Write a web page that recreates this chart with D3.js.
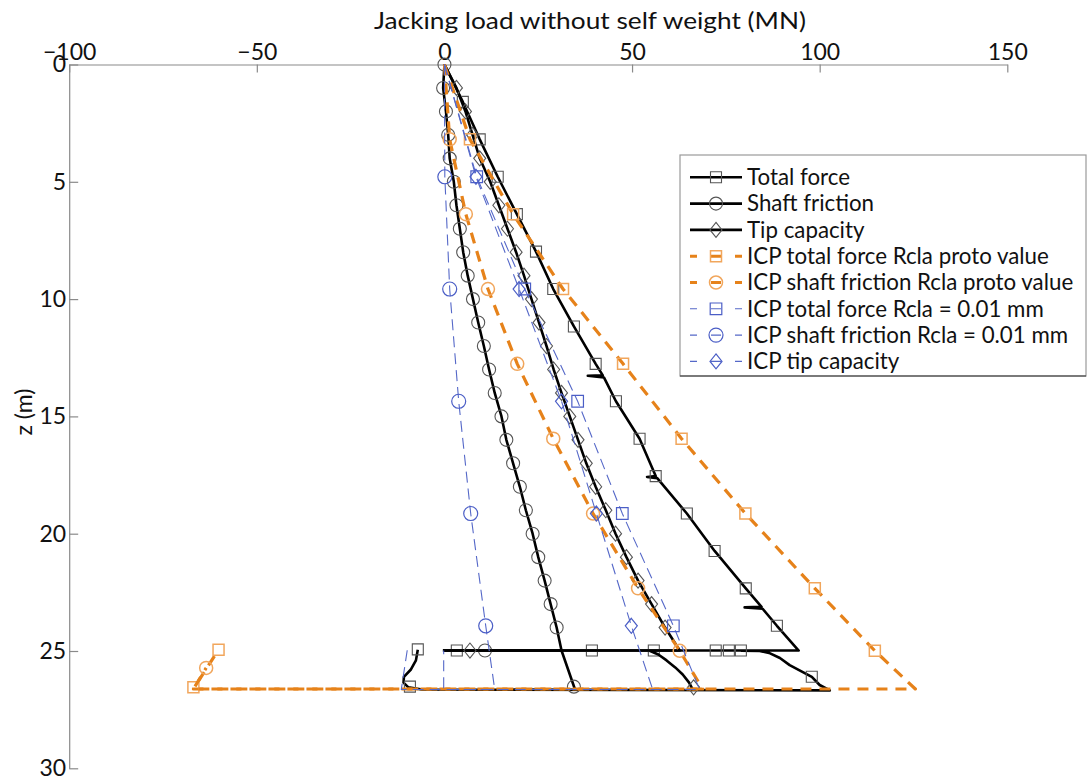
<!DOCTYPE html>
<html>
<head>
<meta charset="utf-8">
<script src="https://cdn.jsdelivr.net/npm/d3@7"></script>
<style>
  body { margin: 0; background: #fff; }
  svg { display: block; }
  text { font-family: Lato, "Open Sans", "DejaVu Sans", sans-serif; fill: #111; }
</style>
</head>
<body>
<svg id="chart" width="1089" height="780"></svg>
<script>
// ---- axis ticks ----
const loadTicks = [-100, -50, 0, 50, 100, 150];
const depthTicks = [0, 5, 10, 15, 20, 25, 30];

// ---- measured jacking records (load in MN, depth z in m); null breaks a trace ----
const totalForceZ = [0, 1.595, 3.19, 4.785, 6.38, 7.975, 9.57, 11.165, 12.76, 13.25, 13.27, 13.34, 14.355, 15.95, 17.545, 17.58, 17.63, 19.14, 20.735, 22.33, 23.12, 23.14, 23.2, 23.925, 24.98, 24.98,
  null, 24.95, 25.4, 25.8, 26.1, 26.35, 26.55, 26.64, 26.68, 26.45, 26.1, 25.6, 25.3, 25.08, 25.0, 24.99];
const totalForceX = [0, 4.9, 9.4, 14.2, 19.3, 24.4, 29.0, 34.5, 40.3, 42.2, 38.2, 42.5, 45.7, 52.0, 56.3, 54.0, 56.7, 64.6, 72.0, 80.3, 84.5, 80.0, 84.8, 88.6, 94.4, -0.4,
  null, -7.1, -7.6, -9.0, -10.8, -10.9, -9.6, -6.0, 102.7, 100.0, 97.9, 92.0, 89.4, 86.5, 84.0, 79.0];
const totalForceMarkZ = [1.595, 3.19, 4.785, 6.38, 7.975, 9.57, 11.165, 12.76, 14.355, 15.95, 17.545, 19.14, 20.735, 22.33, 23.925, 24.98, 24.98, 24.98, 24.98, 24.98, 24.98, 24.93, 26.52, 26.1];
const totalForceMarkX = [4.9, 9.4, 14.2, 19.3, 24.4, 29.0, 34.5, 40.3, 45.7, 52.0, 56.3, 64.6, 72.0, 80.3, 88.6, 3.3, 39.3, 55.8, 72.3, 75.8, 79.0, -7.1, -9.2, 97.9];

const shaftZ = [0, 1, 2, 3, 4, 5, 6, 7, 8, 9, 10, 11, 12, 13, 14, 15, 16, 17, 18, 19, 20, 21, 22, 23, 24, 24.98, 24.98, null, 24.98, 26.64];
const shaftX = [0, -0.35, 0.4, 1.0, 1.4, 2.5, 3.2, 4.1, 5.0, 6.2, 7.6, 9.0, 10.5, 11.9, 13.4, 15.2, 16.5, 18.3, 20.1, 21.7, 23.5, 25.0, 26.7, 28.3, 29.9, 31.2, -0.4, null, 31.2, 34.8];
const shaftMarkZ = [0, 1, 2, 3, 4, 5, 6, 7, 8, 9, 10, 11, 12, 13, 14, 15, 16, 17, 18, 19, 20, 21, 22, 23, 24, 24.98, 26.52];
const shaftMarkX = [0, -0.35, 0.4, 1.0, 1.4, 2.5, 3.2, 4.1, 5.0, 6.2, 7.6, 9.0, 10.5, 11.9, 13.4, 15.2, 16.5, 18.3, 20.1, 21.7, 23.5, 25.0, 26.7, 28.3, 29.9, 10.8, 34.5];

const tipZ = [0, 1, 2, 3, 4, 5, 6, 7, 8, 9, 10, 11, 12, 13, 14, 15, 16, 17, 18, 19, 20, 21, 22, 23, 24, 24.98, 24.98, null, 24.99, 25.15, 25.4, 25.7, 26.0, 26.35, 26.66];
const tipX = [0, 3.2, 5.6, 7.5, 9.4, 12.2, 14.5, 16.8, 19.1, 21.2, 23.2, 25.2, 27.2, 29.1, 31.2, 33.4, 35.6, 37.8, 40.3, 43.0, 45.6, 48.5, 51.6, 55.2, 58.8, 62.7, -0.4, null, 54.7, 57.0, 59.2, 61.5, 63.5, 65.2, 66.2];
const tipMarkZ = [1, 2, 3, 4, 5, 6, 7, 8, 9, 10, 11, 12, 13, 14, 15, 16, 17, 18, 19, 20, 21, 22, 23, 24, 24.98, 26.55];
const tipMarkX = [3.2, 5.6, 7.5, 9.4, 12.2, 14.5, 16.8, 19.1, 21.2, 23.2, 25.2, 27.2, 29.1, 31.2, 33.4, 35.6, 37.8, 40.3, 43.0, 45.6, 48.5, 51.6, 55.2, 58.8, 6.8, 66.4];

// ---- ICP predictions, Rcla prototype value ----
const icpTotalProtoZ = [0, 3.19, 6.38, 9.57, 12.76, 15.95, 19.14, 22.33, 24.99, 26.62, 26.62, 24.95];
const icpTotalProtoX = [0, 6.8, 18.3, 31.6, 47.6, 63.2, 80.2, 98.7, 114.7, 125.5, -66.9, -60.2];
const icpTotalProtoMarkZ = [3.19, 6.38, 9.57, 12.76, 15.95, 19.14, 22.33, 24.99, 26.55, 24.95];
const icpTotalProtoMarkX = [6.8, 18.3, 31.6, 47.6, 63.2, 80.2, 98.7, 114.7, -66.9, -60.2];

const icpShaftProtoZ = [0, 3.19, 6.38, 9.57, 12.76, 15.95, 19.14, 22.33, 24.99, 26.62, 26.62, 25.72];
const icpShaftProtoX = [0, 1.4, 5.7, 11.6, 19.4, 29.0, 39.6, 51.6, 62.7, 68.8, -66.9, -63.5];
const icpShaftProtoMarkZ = [3.19, 6.38, 9.57, 12.76, 15.95, 19.14, 22.33, 24.99, 25.72];
const icpShaftProtoMarkX = [1.4, 5.7, 11.6, 19.4, 29.0, 39.6, 51.6, 62.7, -63.5];

// ---- ICP predictions, Rcla = 0.01 mm ----
const icpTotalZ = [0, 4.785, 9.57, 14.355, 19.14, 23.925, 26.64, 26.64, 24.95];
const icpTotalX = [0, 8.6, 21.4, 35.5, 47.4, 61.0, 68.0, -11.5, -9.9];
const icpTotalMarkZ = [4.785, 9.57, 14.355, 19.14, 23.925];
const icpTotalMarkX = [8.6, 21.4, 35.5, 47.4, 61.0];

const icpShaftZ = [0, 4.785, 9.57, 14.355, 19.14, 23.925, 26.64, 26.64, 24.98];
const icpShaftX = [0, 0.1, 1.4, 3.8, 7.0, 11.0, 13.4, -0.2, -0.2];
const icpShaftMarkZ = [4.785, 9.57, 14.355, 19.14, 23.925];
const icpShaftMarkX = [0.1, 1.4, 3.8, 7.0, 11.0];

const icpTipZ = [0, 4.785, 9.57, 14.355, 19.14, 23.925, 26.64];
const icpTipX = [0, 8.4, 19.9, 31.2, 40.5, 49.8, 55.5];
const icpTipMarkZ = [4.785, 9.57, 14.355, 19.14, 23.925];
const icpTipMarkX = [8.4, 19.9, 31.2, 40.5, 49.8];

const legendLabels = [
  "Total force", "Shaft friction", "Tip capacity",
  "ICP total force Rcla proto value", "ICP shaft friction Rcla proto value",
  "ICP total force Rcla = 0.01 mm", "ICP shaft friction Rcla = 0.01 mm", "ICP tip capacity"
];

// ---- styles ----
const BLACK = { stroke: "#000", width: 2.6, dash: null, mark: "#555", markWidth: 1.1 };
const ORANGE = { stroke: "#e6821a", width: 3.2, dash: "11,8", mark: "#f1a65c", markWidth: 1.5 };
const BLUE = { stroke: "#5568c8", width: 1.1, dash: "11,6", mark: "#4b5ec6", markWidth: 1.2 };

const series = [
  { name: legendLabels[0], z: totalForceZ, x: totalForceX, mz: totalForceMarkZ, mx: totalForceMarkX, shape: "square", style: BLACK },
  { name: legendLabels[1], z: shaftZ, x: shaftX, mz: shaftMarkZ, mx: shaftMarkX, shape: "circle", style: BLACK },
  { name: legendLabels[2], z: tipZ, x: tipX, mz: tipMarkZ, mx: tipMarkX, shape: "diamond", style: BLACK },
  { name: legendLabels[3], z: icpTotalProtoZ, x: icpTotalProtoX, mz: icpTotalProtoMarkZ, mx: icpTotalProtoMarkX, shape: "square", style: ORANGE },
  { name: legendLabels[4], z: icpShaftProtoZ, x: icpShaftProtoX, mz: icpShaftProtoMarkZ, mx: icpShaftProtoMarkX, shape: "circle", style: ORANGE },
  { name: legendLabels[5], z: icpTotalZ, x: icpTotalX, mz: icpTotalMarkZ, mx: icpTotalMarkX, shape: "square", style: BLUE },
  { name: legendLabels[6], z: icpShaftZ, x: icpShaftX, mz: icpShaftMarkZ, mx: icpShaftMarkX, shape: "circle", style: BLUE },
  { name: legendLabels[7], z: icpTipZ, x: icpTipX, mz: icpTipMarkZ, mx: icpTipMarkX, shape: "diamond", style: BLUE }
];

// ---- layout ----
const svg = d3.select("#chart");
const x = d3.scaleLinear().domain([-100, 150]).range([69.2, 1007.3]);
const y = d3.scaleLinear().domain([0, 30]).range([64.5, 768.3]);
const AXIS_GREY = "#8a8a8a";

function markerPath(shape, blue) {
  if (shape === "square") {
    const h = blue ? 5.8 : 5.5;
    return `M${-h},${-h}h${2 * h}v${2 * h}h${-2 * h}Z`;
  }
  if (shape === "diamond") {
    const hw = 6, hh = 7.5;
    return `M0,${-hh}L${hw},0L0,${hh}L${-hw},0Z`;
  }
  const r = blue ? 7 : 6.5;
  return `M${r},0A${r},${r} 0 1,1 ${-r},0A${r},${r} 0 1,1 ${r},0Z`;
}

// axes: load along the top, depth increasing downward
const xAxis = d3.axisTop(x).tickValues(loadTicks).tickSizeInner(-8).tickSizeOuter(0).tickPadding(5);
const yAxis = d3.axisLeft(y).tickValues(depthTicks).tickSizeInner(-9).tickSizeOuter(0).tickPadding(3);

const gx = svg.append("g").attr("transform", `translate(0,${y(0)})`).call(xAxis);
const gy = svg.append("g").attr("transform", `translate(${x(-100)},0)`).call(yAxis);
[gx, gy].forEach(g => {
  g.select(".domain").attr("stroke", AXIS_GREY).attr("stroke-width", 1.2);
  g.selectAll(".tick line").attr("stroke", AXIS_GREY).attr("stroke-width", 1.2);
  g.selectAll(".tick text").attr("fill", "#111").style("font-size", "23px")
    .style("font-family", "Lato, 'Open Sans', sans-serif");
});

svg.append("text").attr("x", 590).attr("y", 29).attr("text-anchor", "middle")
  .attr("textLength", 432).attr("lengthAdjust", "spacingAndGlyphs")
  .style("font-size", "24px").text("Jacking load without self weight (MN)");
svg.append("text").attr("transform", `translate(32,412) rotate(-90)`).attr("text-anchor", "middle")
  .style("font-size", "23px").text("z (m)");

// traces
const plot = svg.append("g");
series.forEach(s => {
  const pts = s.z.map((z, i) => ({ z, v: s.x[i] }));
  const line = d3.line().defined(d => d.z !== null && d.v !== null).x(d => x(d.v)).y(d => y(d.z));
  const g = plot.append("g");
  g.append("path").attr("d", line(pts)).attr("fill", "none")
    .attr("stroke", s.style.stroke).attr("stroke-width", s.style.width)
    .attr("stroke-dasharray", s.style.dash).attr("stroke-linejoin", "round");
  const marks = s.mz.map((z, i) => ({ z, v: s.mx[i] }));
  g.selectAll("path.mk").data(marks).join("path").attr("class", "mk")
    .attr("transform", d => `translate(${x(d.v)},${y(d.z)})`)
    .attr("d", markerPath(s.shape, s.style === BLUE)).attr("fill", "none")
    .attr("stroke", s.style.mark).attr("stroke-width", s.style.markWidth);
});

// legend
const lg = svg.append("g");
lg.append("rect").attr("x", 680).attr("y", 155).attr("width", 406).attr("height", 221)
  .attr("fill", "#fff").attr("stroke", "#9a9a9a").attr("stroke-width", 1.2);
lg.append("line").attr("x1", 680).attr("x2", 1086).attr("y1", 376).attr("y2", 376)
  .attr("stroke", "#333").attr("stroke-width", 1.2);
series.forEach((s, i) => {
  const cy = 177.3 + i * 26.3;
  lg.append("line").attr("x1", 690).attr("x2", 742).attr("y1", cy).attr("y2", cy)
    .attr("stroke", s.style.stroke).attr("stroke-width", s.style === BLUE ? 1.1 : (s.style === ORANGE ? 3 : 2.6))
    .attr("stroke-dasharray", s.style.dash ? "7,14,10,14,7" : null);
  lg.append("path").attr("transform", `translate(716,${cy})`)
    .attr("d", markerPath(s.shape, s.style === BLUE)).attr("fill", "none")
    .attr("stroke", s.style.mark).attr("stroke-width", s.style.markWidth);
  lg.append("text").attr("x", 747).attr("y", cy + 7.8).style("font-size", "22.3px").text(s.name);
});
</script>
</body>
</html>
